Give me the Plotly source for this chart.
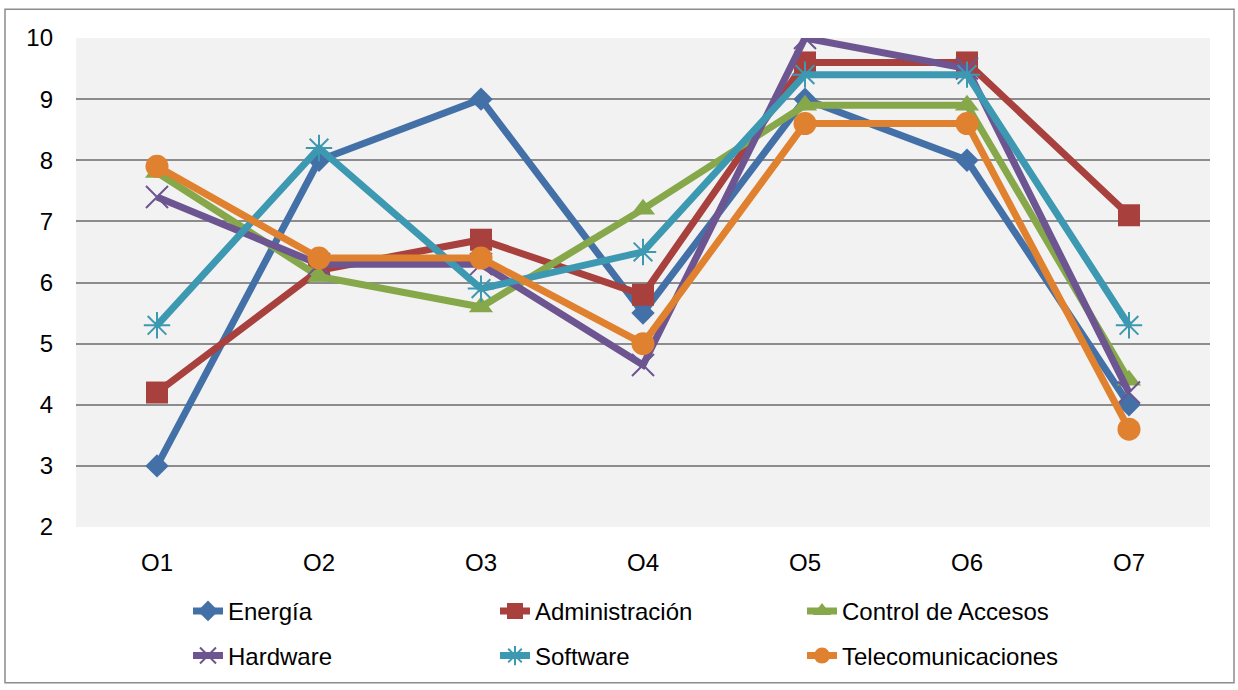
import plotly.graph_objects as go

categories = ["O1", "O2", "O3", "O4", "O5", "O6", "O7"]
energia = [3.0, 8.0, 9.0, 5.5, 9.0, 8.0, 4.0]
administracion = [4.2, 6.2, 6.7, 5.8, 9.6, 9.6, 7.1]
control_accesos = [7.8, 6.1, 5.6, 7.2, 8.9, 8.9, 4.4]
hardware = [7.4, 6.3, 6.3, 4.65, 10.0, 9.5, 4.2]
software = [5.3, 8.2, 5.9, 6.5, 9.4, 9.4, 5.3]
telecom = [7.9, 6.4, 6.4, 5.0, 8.6, 8.6, 3.6]

W, H = 1238, 690
L, R, T, B = 76, 28, 38, 159
pw, ph = W - L - R, H - T - B

def px(x):
    return (x - L) / pw

def py(y):
    return (H - B - y) / ph

series = [
    ("Energía", energia, "#4470a8", dict(symbol="diamond", size=18)),
    ("Administración", administracion, "#a8403e", dict(symbol="square", size=22)),
    ("Control de Accesos", control_accesos, "#86a84a", dict(symbol="triangle-up", size=21)),
    ("Hardware", hardware, "#6c5590", dict(symbol="x-thin-open", size=22, line=dict(width=2, color="#6c5590"))),
    ("Software", software, "#3d98b1", dict(symbol="asterisk-open", size=22, line=dict(width=2, color="#3d98b1"))),
    ("Telecomunicaciones", telecom, "#e0812f", dict(symbol="circle", size=23)),
]

# legend slots: (text-left px, row center px)
slots = [(228, 616), (535, 616), (842, 616), (228, 661), (535, 661), (842, 661)]

fig = go.Figure()
legend_layout = {}
for i, (name, vals, color, marker) in enumerate(series):
    m = dict(color=color)
    m.update(marker)
    lg = "legend" if i == 0 else f"legend{i + 1}"
    fig.add_trace(go.Scatter(
        x=categories, y=vals, name=name, mode="lines+markers",
        line=dict(color=color, width=7), marker=m, legend=lg, showlegend=True,
    ))
    tx, ty = slots[i]
    legend_layout[lg] = dict(
        x=px(tx - 40), y=py(ty), xanchor="left", yanchor="middle",
        orientation="h", visible=True, itemsizing="trace",
        font=dict(family="Liberation Sans, Arial, sans-serif", size=24, color="#000"),
        bgcolor="rgba(0,0,0,0)",
    )

fig.update_layout(
    width=W, height=H,
    showlegend=True,
    margin=dict(l=L, r=R, t=T, b=B),
    paper_bgcolor="white", plot_bgcolor="#f2f2f2",
    font=dict(family="Liberation Sans, Arial, sans-serif", size=24, color="#000"),
    xaxis=dict(
        range=[-0.5, 6.5], showgrid=False, showline=False, zeroline=False,
        ticks="", ticklabelstandoff=19, tickfont=dict(size=24),
    ),
    yaxis=dict(
        range=[2, 10], dtick=1, showgrid=True, gridcolor="#8c8c8c", gridwidth=1.5,
        zeroline=False, showline=False, ticks="", ticklabelstandoff=22,
        tickfont=dict(size=24),
    ),
    shapes=[dict(
        type="rect", xref="paper", yref="paper",
        x0=px(5), x1=px(1234), y0=py(688), y1=py(9),
        line=dict(color="#8c8c8c", width=1.5), fillcolor="rgba(0,0,0,0)", layer="below",
    )],
    **legend_layout,
)

fig.write_html("out.html", config={"displayModeBar": False},
               post_script="document.body.style.margin='0';")
